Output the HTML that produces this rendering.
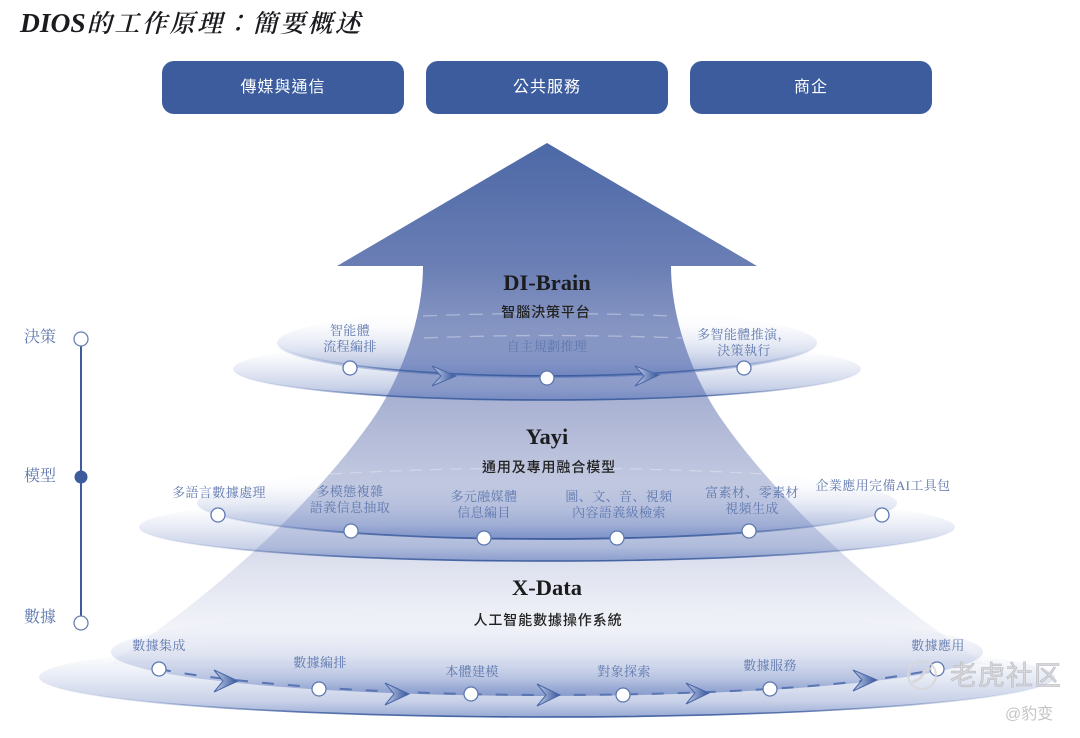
<!DOCTYPE html>
<html><head><meta charset="utf-8">
<style>
html,body{margin:0;padding:0;background:#fff;width:1080px;height:738px;overflow:hidden}
svg{display:block}
.l{font-family:"Liberation Serif","Noto Serif CJK SC",serif;font-size:13px;letter-spacing:.4px;fill:#5f78ae;text-anchor:middle}
.s{font-family:"Liberation Sans","Noto Sans CJK TC",sans-serif;font-size:14px;font-weight:500;fill:#222;text-anchor:middle;letter-spacing:.9px}
.h{font-family:"Liberation Serif",serif;font-size:22.5px;font-weight:bold;fill:#1c1c1e;text-anchor:middle}
.b{font-family:"Liberation Sans","Noto Sans CJK TC",sans-serif;font-size:16px;fill:#fff;text-anchor:middle;letter-spacing:1px}
.a{font-family:"Liberation Serif","Noto Serif CJK SC",serif;font-size:16px;fill:#5f78ae}
.n{fill:#fff;stroke:#5d78b0;stroke-width:1.3}
.c{fill:url(#ch);stroke:#4a67a8;stroke-width:1}
</style></head><body>
<svg width="1080" height="738" viewBox="0 0 1080 738" xmlns="http://www.w3.org/2000/svg">
<defs>
<linearGradient id="ar" gradientUnits="userSpaceOnUse" x1="0" y1="143" x2="0" y2="660">
<stop offset="0" stop-color="#4c68a6"/><stop offset=".24" stop-color="#6b7fb5"/>
<stop offset=".5" stop-color="#a9b2d3"/><stop offset=".7" stop-color="#c9cfe4"/>
<stop offset=".9" stop-color="#eceef6"/><stop offset="1" stop-color="#fbfbfd"/>
</linearGradient>
<linearGradient id="el" x1="0" y1="0" x2="0" y2="1">
<stop offset="0" stop-color="#5a75ba" stop-opacity="0"/><stop offset=".25" stop-color="#5a75ba" stop-opacity=".02"/>
<stop offset=".5" stop-color="#5a75ba" stop-opacity=".14"/>
<stop offset=".8" stop-color="#5a75ba" stop-opacity=".33"/><stop offset="1" stop-color="#5a75ba" stop-opacity=".62"/>
</linearGradient>
<linearGradient id="ln" x1="0" y1="0" x2="1" y2="0">
<stop offset="0" stop-color="#3c5c9e" stop-opacity="0"/><stop offset=".1" stop-color="#3c5c9e" stop-opacity=".2"/><stop offset=".25" stop-color="#3c5c9e" stop-opacity=".8"/>
<stop offset=".5" stop-color="#3c5c9e"/><stop offset=".75" stop-color="#3c5c9e" stop-opacity=".8"/>
<stop offset=".9" stop-color="#3c5c9e" stop-opacity=".2"/><stop offset="1" stop-color="#3c5c9e" stop-opacity="0"/>
</linearGradient>
<linearGradient id="ch" x1="0" y1="0" x2="1" y2="0">
<stop offset="0" stop-color="#c3cee8"/><stop offset="1" stop-color="#33549a"/>
</linearGradient>
</defs>

<text x="20" y="32" style="font-family:'Liberation Serif','Noto Serif CJK SC',serif;font-size:27.5px;font-style:italic;font-weight:bold" fill="#1b1b1f">DIOS<tspan dx="1" font-size="25" font-weight="600" letter-spacing="2.6">的工作原理<tspan style="font-family:'Noto Sans CJK TC',sans-serif" font-weight="400">：</tspan>簡要概述</tspan></text>

<rect x="162" y="61" width="242" height="53" rx="12" fill="#3c5c9e"/>
<rect x="426" y="61" width="242" height="53" rx="12" fill="#3c5c9e"/>
<rect x="690" y="61" width="242" height="53" rx="12" fill="#3c5c9e"/>
<text class="b" x="283" y="92">傳媒與通信</text>
<text class="b" x="547" y="92">公共服務</text>
<text class="b" x="811" y="92">商企</text>

<path d="M547,143 L757,266 L671,266 C671,320 694,380 722,420 C764,480 850,575 985,664 L109,664 C244,575 330,480 372,420 C400,380 423,320 423,266 L337,266 Z" fill="url(#ar)"/>

<!-- tier 3 -->
<ellipse cx="547" cy="652" rx="436" ry="44" fill="url(#el)"/>
<ellipse cx="547" cy="677" rx="508" ry="40" fill="url(#el)"/>
<path d="M39,677 A508,40 0 0 0 1055,677" fill="none" stroke="url(#ln)" stroke-width="1.6"/>
<path d="M159,669 C240,685 400,695 547,695 C700,695 850,688 937,669" fill="none" stroke="#5a75b3" stroke-width="2" stroke-dasharray="12 14"/>
<!-- tier 2 -->
<ellipse cx="547" cy="503" rx="350" ry="36" fill="url(#el)"/>
<ellipse cx="547" cy="527" rx="408" ry="34" fill="url(#el)"/>
<path d="M139,527 A408,34 0 0 0 955,527" fill="none" stroke="url(#ln)" stroke-width="1.6"/>
<path d="M197,503 A350,36 0 0 0 897,503" fill="none" stroke="url(#ln)" stroke-width="1.8"/>
<path d="M330,474 Q547,462 764,474" fill="none" stroke="#fff" stroke-opacity=".3" stroke-width="1.2" stroke-dasharray="12 8"/>
<!-- tier 1 -->
<ellipse cx="547" cy="343" rx="270" ry="35" fill="url(#el)"/>
<ellipse cx="547" cy="369" rx="314" ry="31" fill="url(#el)"/>
<path d="M233,369 A314,31 0 0 0 861,369" fill="none" stroke="url(#ln)" stroke-width="1.6"/>
<path d="M278,343 A270,35 0 0 0 817,343" fill="none" stroke="url(#ln)" stroke-width="1.6"/>
<path d="M423,316 Q547,311 671,316 M424,338 Q547,333 682,338" fill="none" stroke="#fff" stroke-opacity=".35" stroke-width="1.3" stroke-dasharray="14 9"/>

<!-- chevrons -->
<g class="chev">
<path class="c" d="M432,366 L456,376 L432,386 L441,376 Z"/>
<path class="c" d="M635,366 L659,375 L635,386 L644,376 Z"/>
<path class="c" d="M214,670 L238,681 L214,692 L223,681 Z"/>
<path class="c" d="M385,683 L409,694 L385,705 L394,694 Z"/>
<path class="c" d="M537,684 L560,695 L537,706 L546,695 Z"/>
<path class="c" d="M686,683 L709,693 L686,704 L695,693 Z"/>
<path class="c" d="M853,670 L877,680 L853,691 L862,680 Z"/>
</g>

<!-- nodes -->
<g class="nodes">
<circle class="n" cx="350" cy="368" r="7"/><circle class="n" cx="547" cy="378" r="7"/><circle class="n" cx="744" cy="368" r="7"/>
<circle class="n" cx="218" cy="515" r="7"/><circle class="n" cx="351" cy="531" r="7"/><circle class="n" cx="484" cy="538" r="7"/><circle class="n" cx="617" cy="538" r="7"/><circle class="n" cx="749" cy="531" r="7"/><circle class="n" cx="882" cy="515" r="7"/>
<circle class="n" cx="159" cy="669" r="7"/><circle class="n" cx="319" cy="689" r="7"/><circle class="n" cx="471" cy="694" r="7"/><circle class="n" cx="623" cy="695" r="7"/><circle class="n" cx="770" cy="689" r="7"/><circle class="n" cx="937" cy="669" r="7"/>
</g>

<text class="h" x="547" y="290">DI-Brain</text><text class="s" x="546" y="317">智腦決策平台</text>
<text class="h" x="547" y="444">Yayi</text><text class="s" x="549" y="472">通用及專用融合模型</text>
<text class="h" x="547" y="595">X-Data</text><text class="s" x="548" y="625">人工智能數據操作系統</text>

<text class="l" x="350" y="335">智能體</text><text class="l" x="350" y="351">流程編排</text>
<text class="l" x="547" y="351">自主規劃推理</text>
<text class="l" x="744" y="339">多智能體推演，</text><text class="l" x="744" y="355">決策執行</text>
<text class="l" x="219" y="497">多語言數據處理</text>
<text class="l" x="350" y="496">多模態複雜</text><text class="l" x="350" y="512">語義信息抽取</text>
<text class="l" x="484" y="501">多元融媒體</text><text class="l" x="484" y="517">信息編目</text>
<text class="l" x="619" y="501">圖、文、音、視頻</text><text class="l" x="619" y="517">內容語義級檢索</text>
<text class="l" x="752" y="497">富素材、零素材</text><text class="l" x="752" y="513">視頻生成</text>
<text class="l" x="883" y="490">企業應用完備AI工具包</text>
<text class="l" x="159" y="650">數據集成</text><text class="l" x="320" y="667">數據編排</text>
<text class="l" x="472" y="676">本體建模</text><text class="l" x="624" y="676">對象探索</text>
<text class="l" x="770" y="670">數據服務</text><text class="l" x="938" y="650">數據應用</text>

<!-- left scale -->
<line x1="81" y1="346" x2="81" y2="616" stroke="#3c5c9e" stroke-width="2"/>
<circle cx="81" cy="339" r="7" fill="#fff" stroke="#6b80ae" stroke-width="1.3"/>
<circle cx="81" cy="477" r="6.5" fill="#3c5c9e"/>
<circle cx="81" cy="623" r="7" fill="#fff" stroke="#6b80ae" stroke-width="1.3"/>
<text class="a" x="24" y="342">決策</text><text class="a" x="24" y="481">模型</text><text class="a" x="24" y="622">數據</text>

<!-- watermark -->
<circle cx="922" cy="675" r="14" fill="none" stroke="#d6d6d8" stroke-width="2" opacity=".85"/>
<path d="M912,682 q9,-2 12,-10 q4,-4 8,-3" fill="none" stroke="#d6d6d8" stroke-width="3" opacity=".85"/>
<text x="950" y="685" style="font-family:'Liberation Sans','Noto Sans CJK SC',sans-serif;font-size:27px;letter-spacing:1px" fill="#d4d4d8" fill-opacity=".9" stroke="#b4b4ba" stroke-width=".5">老虎社区</text>
<text x="1005" y="719" style="font-family:'Liberation Sans','Noto Sans CJK SC',sans-serif;font-size:16px" fill="#c4c4c8">@豹变</text>
</svg>
</body></html>
